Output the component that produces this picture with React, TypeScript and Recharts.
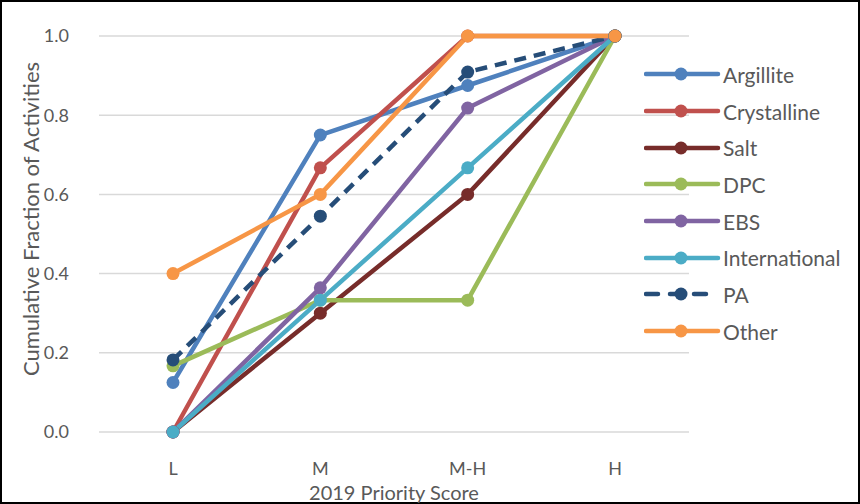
import React from 'react';
import { LineChart, Line, XAxis, YAxis, CartesianGrid, Legend, Label } from 'recharts';

const categories = ['L', 'M', 'M-H', 'H'];
const argillite = [0.125, 0.75, 0.875, 1.0];
const crystalline = [0.0, 0.667, 1.0, 1.0];
const salt = [0.0, 0.3, 0.6, 1.0];
const dpc = [0.167, 0.333, 0.333, 1.0];
const ebs = [0.0, 0.364, 0.818, 1.0];
const international = [0.0, 0.333, 0.667, 1.0];
const pa = [0.182, 0.545, 0.909, 1.0];
const other = [0.4, 0.6, 1.0, 1.0];
const yTicks = [0, 0.2, 0.4, 0.6, 0.8, 1.0];

const seriesNames = ['Argillite', 'Crystalline', 'Salt', 'DPC', 'EBS', 'International', 'PA', 'Other'];
const seriesValues = [argillite, crystalline, salt, dpc, ebs, international, pa, other];
const seriesColors = ['#4F81BD', '#C0504D', '#772C2A', '#9BBB59', '#8064A2', '#4BACC6', '#264D78', '#F79646'];

const data = categories.map((c, i) => {
  const row: Record<string, any> = { cat: c };
  seriesNames.forEach((n, k) => { row[n] = seriesValues[k][i]; });
  return row;
});

const FONT = 'Lato, "Open Sans", sans-serif';
const TEXT = '#595959';

const makeDot = (color: string) => (props: any) => {
  const { cx, cy, index } = props;
  if (cx == null || cy == null) return <g key={index} />;
  return <circle key={index} cx={cx} cy={cy} r={6.5} fill={color} stroke="none" />;
};

const renderLegend = () => (
  <div style={{ fontFamily: FONT, fontSize: 21, color: TEXT }}>
    {seriesNames.map((n, i) => (
      <div key={n} style={{ display: 'flex', alignItems: 'center', height: 36.7 }}>
        <svg width={79} height={20} style={{ display: 'block' }}>
          <line x1={2} y1={10} x2={74} y2={10} stroke={seriesColors[i]} strokeWidth={4.5}
            strokeLinecap="round" strokeDasharray={n === 'PA' ? '12 12' : undefined} />
          <circle cx={37} cy={10} r={6.5} fill={seriesColors[i]} />
        </svg>
        <span style={{ lineHeight: 1 }}>{n}</span>
      </div>
    ))}
  </div>
);

const yTitle = () => (
  <text x={30} y={219} transform="rotate(-90, 30, 219)" textAnchor="middle" dominantBaseline="central"
    style={{ fontSize: 22, fill: TEXT, fontFamily: FONT }}>
    Cumulative Fraction of Activities
  </text>
);

const xTitle = () => (
  <text x={394} y={492} textAnchor="middle" dominantBaseline="central"
    style={{ fontSize: 20, fill: TEXT, fontFamily: FONT }}>
    2019 Priority Score
  </text>
);

export default function App() {
  return (
    <div style={{ position: 'fixed', left: 0, top: 0, width: 860, height: 504, boxSizing: 'border-box', border: '2px solid #000', background: '#fff' }}>
      <div style={{ position: 'absolute', left: -2, top: -2 }}>
        <LineChart width={860} height={504} data={data} margin={{ top: 36, right: 171, left: 0, bottom: 0 }}>
          <CartesianGrid vertical={false} stroke="#D9D9D9" strokeWidth={1.5} />
          <XAxis dataKey="cat" height={72} axisLine={false} tickLine={false} tickSize={0} tickMargin={30}
            padding={{ left: 74, right: 74 }} interval={0}
            tick={{ fontSize: 18, fill: TEXT, fontFamily: FONT }}>
            <Label content={xTitle} />
          </XAxis>
          <YAxis width={99} domain={[0, 1]} ticks={yTicks} axisLine={false} tickLine={false} tickSize={0} tickMargin={30}
            tickFormatter={(v: number) => v.toFixed(1)}
            tick={{ fontSize: 18, fill: TEXT, fontFamily: FONT }}>
            <Label content={yTitle} />
          </YAxis>
          <Legend layout="vertical" align="center" verticalAlign="middle" content={renderLegend}
            wrapperStyle={{ left: 644, top: 56, width: 214 }} />
          {seriesNames.map((n, i) => (
            <Line key={n} type="linear" dataKey={n} stroke={seriesColors[i]} strokeWidth={4.5}
              strokeDasharray={n === 'PA' ? '12 8' : undefined}
              dot={makeDot(seriesColors[i])} activeDot={false} isAnimationActive={false} />
          ))}
        </LineChart>
      </div>
    </div>
  );
}
